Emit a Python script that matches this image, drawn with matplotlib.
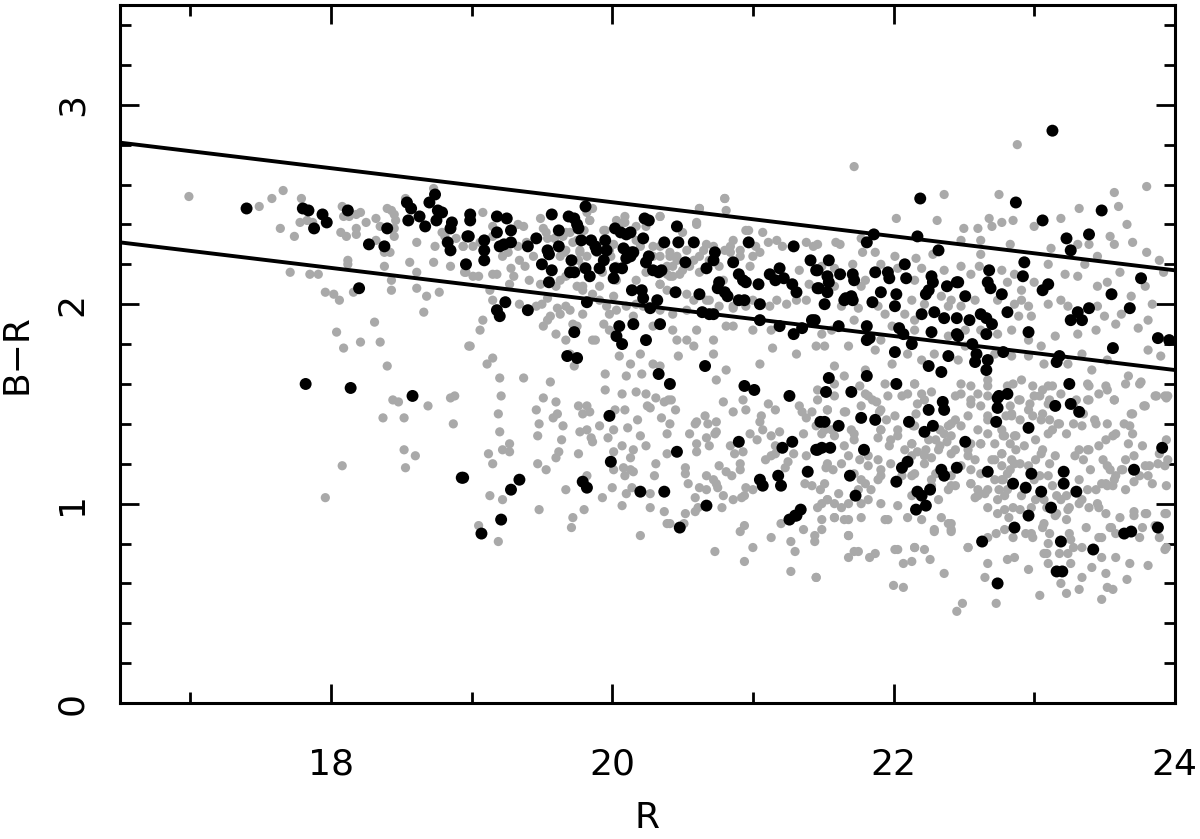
import numpy as np
import matplotlib
matplotlib.use("Agg")
import matplotlib.pyplot as plt

# colour-magnitude diagram: R vs B-R
# black = members, gray = field galaxies (values read by eye)
black_pts = [
    (17.40, 2.48), (17.80, 2.48), (17.84, 2.47), (17.94, 2.45), (17.88, 2.38), (17.97, 2.41),
    (18.12, 2.47), (18.40, 2.38), (18.27, 2.30), (18.38, 2.29), (18.20, 2.08), (18.54, 2.51),
    (18.57, 2.48), (18.70, 2.51), (18.74, 2.55), (18.63, 2.44), (18.55, 2.42), (18.67, 2.39),
    (18.76, 2.47), (18.79, 2.46), (18.75, 2.42), (18.86, 2.41), (18.85, 2.38), (18.83, 2.31),
    (18.85, 2.27), (18.96, 2.20), (18.97, 2.34), (18.99, 2.45), (17.82, 1.60), (18.14, 1.58),
    (18.58, 1.54), (18.93, 1.13),
    (18.99, 2.42), (18.98, 2.34), (19.09, 2.32), (19.09, 2.27), (19.09, 2.22), (19.18, 2.44),
    (19.25, 2.43), (19.18, 2.36), (19.28, 2.37), (19.23, 2.30), (19.20, 2.29), (19.28, 2.31),
    (19.24, 2.01), (19.18, 1.97), (19.20, 1.94), (19.40, 1.97), (19.40, 2.29), (19.46, 2.33),
    (19.57, 2.45), (19.62, 2.37), (19.54, 2.27), (19.55, 2.25), (19.62, 2.29), (19.50, 2.20),
    (19.57, 2.17), (19.55, 2.11), (19.69, 2.44), (19.73, 2.43), (19.75, 2.40), (19.76, 2.38),
    (19.81, 2.49), (19.78, 2.32), (19.85, 2.32), (19.88, 2.29), (19.89, 2.27), (19.71, 2.22),
    (19.70, 2.16), (19.73, 2.16), (19.81, 2.18), (19.84, 2.14), (19.82, 2.01), (19.73, 1.86),
    (19.68, 1.74), (19.75, 1.73), (19.95, 2.32), (19.96, 2.27), (19.94, 2.22), (19.91, 2.18),
    (20.02, 2.38), (20.06, 2.36), (20.10, 2.35), (20.13, 2.36), (20.08, 2.28), (20.11, 2.26),
    (20.14, 2.26), (20.10, 2.23), (20.13, 2.24), (20.15, 2.26), (20.02, 2.18), (20.07, 2.18),
    (20.01, 2.13), (20.22, 2.33), (20.23, 2.43), (20.26, 2.42), (20.26, 2.24), (20.24, 2.21),
    (20.14, 2.07), (20.21, 2.07), (20.22, 2.03), (20.05, 1.89), (20.03, 1.84), (20.07, 1.80),
    (20.15, 1.90), (20.24, 1.82), (20.29, 2.17), (20.33, 2.16), (20.35, 2.17), (20.32, 2.02),
    (20.27, 1.98), (20.34, 1.90), (20.37, 2.31), (20.45, 2.06), (20.46, 2.39), (20.47, 2.31),
    (20.52, 2.21), (20.58, 2.31), (20.67, 2.18), (20.62, 2.05), (20.64, 1.96), (20.69, 1.95),
    (20.72, 1.95), (20.73, 2.26), (20.72, 2.22), (20.76, 2.11), (20.75, 2.08), (20.80, 2.06),
    (20.82, 2.04), (20.86, 2.21), (20.90, 2.02), (20.94, 2.02), (20.90, 2.15), (20.93, 2.12),
    (20.95, 2.11), (20.97, 2.31), (21.04, 2.10), (21.05, 2.00), (21.05, 1.92), (21.12, 2.15),
    (21.16, 2.12), (21.19, 2.18), (21.22, 2.13), (21.29, 2.29), (21.28, 2.10), (21.31, 2.06),
    (21.41, 2.22), (21.45, 2.17), (21.46, 2.08), (21.42, 1.92), (21.35, 1.88), (21.29, 1.85),
    (21.19, 1.89), (20.66, 1.69), (20.33, 1.65), (20.41, 1.60), (20.94, 1.59), (21.01, 1.57),
    (21.26, 1.54),
    (18.94, 1.13), (19.34, 1.12), (19.28, 1.07), (19.21, 0.92), (19.07, 0.85), (19.79, 1.11),
    (19.82, 1.08), (19.98, 1.44), (19.99, 1.21), (20.20, 1.06), (20.37, 1.06), (20.46, 1.26),
    (20.48, 0.88), (20.67, 0.99), (20.90, 1.31), (21.05, 1.12), (21.07, 1.09), (21.18, 1.14),
    (21.20, 1.09), (21.21, 1.28), (21.28, 1.31), (21.26, 0.92), (21.30, 0.94), (21.34, 0.97),
    (21.31, 0.94), (21.39, 1.16), (21.45, 1.27), (21.48, 1.41),
    (23.13, 2.87), (22.19, 2.53), (22.87, 2.51), (23.06, 2.42), (23.48, 2.47), (21.86, 2.35),
    (21.81, 2.31), (22.17, 2.34), (22.32, 2.27), (23.23, 2.33), (23.26, 2.27), (23.39, 2.35),
    (21.54, 2.22), (21.46, 2.17), (21.53, 2.14), (21.54, 2.11), (21.47, 2.08), (21.53, 2.06),
    (21.62, 2.15), (21.71, 2.15), (21.72, 2.12), (21.87, 2.16), (21.96, 2.16), (21.97, 2.13),
    (22.08, 2.20), (22.09, 2.13), (21.66, 2.03), (21.70, 2.04), (21.71, 2.02), (21.65, 2.02),
    (21.51, 2.00), (21.44, 1.92), (21.61, 1.89), (21.85, 2.01), (21.91, 2.06), (22.02, 2.05),
    (22.01, 1.99), (21.81, 1.89), (21.81, 1.82), (21.83, 1.83), (22.04, 1.88), (22.07, 1.85),
    (22.13, 1.80), (22.01, 1.76), (22.27, 2.14), (22.28, 2.11), (22.25, 2.07), (22.23, 2.05),
    (22.38, 2.09), (22.45, 2.11), (22.46, 2.11), (22.51, 2.04), (22.20, 1.95), (22.29, 1.96),
    (22.36, 1.93), (22.45, 1.93), (22.27, 1.86), (22.45, 1.85), (22.46, 1.84), (22.54, 1.92),
    (22.62, 1.95), (22.66, 1.93), (22.70, 1.90), (22.66, 1.85), (22.56, 1.80), (22.59, 1.75),
    (22.58, 1.71), (22.67, 1.72), (22.66, 1.67), (22.39, 1.74), (22.25, 1.69), (22.34, 1.66),
    (22.68, 2.17), (22.69, 2.08), (22.67, 2.11), (22.77, 2.05), (22.81, 1.96), (22.78, 1.76),
    (22.93, 2.21), (22.92, 2.14), (22.96, 1.86), (23.06, 2.07), (23.10, 2.10), (23.18, 1.74),
    (23.16, 1.71), (23.31, 1.96), (23.26, 1.92), (23.34, 1.92), (23.39, 1.98), (23.55, 2.05),
    (23.56, 1.78), (23.68, 1.98), (23.76, 2.13), (23.88, 1.83), (23.96, 1.82), (21.54, 1.63),
    (21.52, 1.56), (21.70, 1.56), (21.81, 1.64), (22.02, 1.60), (23.25, 1.60), (22.75, 1.54),
    (22.81, 1.55),
    (21.51, 1.41), (21.61, 1.39), (21.77, 1.43), (21.87, 1.42), (21.46, 1.27), (21.49, 1.28),
    (21.55, 1.28), (21.79, 1.27), (21.69, 1.14), (21.73, 1.04), (22.11, 1.41), (22.25, 1.47),
    (22.28, 1.39), (22.22, 1.36), (22.35, 1.51), (22.36, 1.47), (22.06, 1.18), (22.10, 1.21),
    (22.02, 1.11), (22.17, 1.06), (22.20, 1.04), (22.26, 1.07), (22.23, 0.99), (22.16, 0.97),
    (22.34, 1.17), (22.36, 1.14), (22.45, 1.18), (22.51, 1.31), (22.67, 1.16), (22.74, 1.53),
    (22.74, 1.48), (22.73, 1.41), (22.96, 1.38), (23.15, 1.49), (23.26, 1.50), (23.32, 1.46),
    (22.85, 1.10), (22.94, 1.08), (22.98, 1.15), (23.05, 1.06), (23.12, 0.98), (22.96, 0.94),
    (23.21, 1.16), (23.21, 1.10), (23.30, 1.06), (22.86, 0.88), (22.63, 0.81), (23.19, 0.81),
    (23.42, 0.77), (23.16, 0.66), (23.20, 0.66), (22.74, 0.60), (23.64, 0.85), (23.69, 0.86),
    (23.71, 1.17), (23.91, 1.28), (23.88, 0.88),
]

gray_pts = [
    (16.99, 2.54), (17.49, 2.49), (17.58, 2.53), (17.66, 2.57), (17.64, 2.38), (17.74, 2.34),
    (17.79, 2.53), (17.78, 2.41), (17.83, 2.42), (17.87, 2.41), (17.71, 2.16), (17.85, 2.15),
    (17.91, 2.15), (17.96, 2.06), (18.02, 2.05), (18.06, 2.02), (18.08, 2.49), (18.09, 2.44),
    (18.13, 2.44), (18.18, 2.45), (18.21, 2.46), (18.07, 2.36), (18.11, 2.34), (18.18, 2.38),
    (18.18, 2.35), (18.25, 2.41), (18.32, 2.43), (18.35, 2.39), (18.32, 2.32), (18.12, 2.22),
    (18.12, 2.20), (18.16, 2.06), (18.38, 2.26), (18.42, 2.26), (18.38, 2.19), (18.40, 2.48),
    (18.43, 2.47), (18.45, 2.45), (18.46, 2.42), (18.45, 2.38), (18.45, 2.34), (18.53, 2.53),
    (18.43, 2.12), (18.43, 2.07), (18.56, 2.21), (18.61, 2.31), (18.61, 2.16), (18.61, 2.08),
    (18.68, 2.04), (18.77, 2.06), (18.66, 1.96), (18.73, 2.21), (18.73, 2.58), (18.74, 2.29),
    (18.79, 2.36), (18.81, 2.34), (18.89, 2.33), (18.94, 2.29), (18.85, 2.19), (18.95, 2.16),
    (18.31, 1.91), (18.04, 1.86), (18.09, 1.78), (18.21, 1.81), (18.35, 1.81), (18.40, 1.69),
    (18.98, 1.79), (18.44, 1.52), (18.88, 1.54), (18.48, 1.51), (18.69, 1.49), (18.85, 1.53),
    (18.37, 1.43), (18.52, 1.43), (18.87, 1.40), (18.52, 1.27), (18.60, 1.24), (18.53, 1.18),
    (18.08, 1.19), (17.96, 1.03),
    (19.21, 1.54), (19.19, 1.45), (19.20, 1.36), (19.22, 1.27), (19.27, 1.30), (19.27, 1.26),
    (19.12, 1.25), (19.15, 1.20), (19.13, 1.04), (19.22, 1.02), (19.05, 0.89), (19.19, 0.81),
    (19.51, 1.53), (19.46, 1.47), (19.48, 1.40), (19.47, 1.34), (19.47, 1.20), (19.53, 1.17),
    (19.48, 0.97), (19.60, 1.51), (19.61, 1.45), (19.58, 1.43), (19.65, 1.39), (19.64, 1.32),
    (19.62, 1.26), (19.60, 1.23), (19.67, 1.07), (19.72, 0.93), (19.71, 0.88), (19.80, 0.97),
    (19.76, 1.25), (19.76, 1.49), (19.82, 1.49), (19.79, 1.45), (19.84, 1.46), (19.77, 1.36),
    (19.82, 1.37), (19.85, 1.33), (19.86, 1.31), (19.91, 1.39), (19.93, 1.03), (19.82, 1.14),
    (19.95, 1.57), (20.02, 1.47), (20.09, 1.47), (20.07, 1.55), (20.01, 1.37), (19.97, 1.33),
    (20.01, 1.26), (20.01, 1.17), (20.07, 1.29), (20.15, 1.27), (20.13, 1.23), (20.08, 1.18),
    (20.13, 1.17), (20.15, 1.16), (20.09, 1.14), (20.00, 1.08), (20.10, 1.05), (20.07, 0.99),
    (20.14, 1.08), (20.17, 1.56), (20.24, 1.55), (20.18, 1.42), (20.11, 1.38), (20.20, 1.34),
    (20.24, 1.29), (20.20, 0.84), (20.27, 1.05), (20.27, 0.98), (20.25, 1.49), (20.27, 1.48),
    (20.31, 1.53), (20.37, 1.51), (20.40, 1.52), (20.42, 1.52), (20.45, 1.47), (20.35, 1.43),
    (20.41, 1.40), (20.39, 1.35), (20.31, 1.20), (20.30, 1.14), (20.39, 1.25), (20.37, 0.96),
    (20.39, 0.90), (20.41, 0.90), (20.52, 0.95), (20.51, 0.90), (20.52, 1.18), (20.52, 1.15),
    (20.54, 1.10), (20.55, 1.35), (20.59, 1.40), (20.60, 1.41), (20.60, 1.30), (20.60, 1.26),
    (20.62, 1.08), (20.59, 1.03), (20.61, 0.98), (20.59, 0.96), (20.66, 1.44), (20.68, 1.40),
    (20.74, 1.41), (20.67, 1.33), (20.69, 1.29), (20.73, 1.35), (20.74, 1.36), (20.67, 1.14),
    (20.72, 1.12), (20.74, 1.10), (20.75, 1.08), (20.67, 1.07), (20.79, 1.04), (20.78, 0.98),
    (20.73, 0.76), (20.79, 1.51), (20.86, 1.46), (20.93, 1.52), (20.95, 1.47), (20.84, 1.29),
    (20.87, 1.25), (20.91, 1.20), (20.91, 1.17), (20.93, 1.26), (20.76, 1.19), (20.81, 1.16),
    (20.85, 1.14), (20.86, 1.02), (20.92, 1.03), (20.94, 1.04), (20.95, 1.08), (21.00, 1.07),
    (20.94, 0.89), (20.91, 0.86), (21.00, 0.78), (20.94, 0.71), (20.98, 1.35), (21.03, 1.32),
    (21.06, 1.44), (21.05, 1.41), (21.07, 1.37), (21.09, 1.22), (21.13, 1.24), (21.11, 1.50),
    (21.16, 1.47), (21.13, 1.34), (21.16, 1.29), (21.19, 1.36), (21.16, 1.25), (21.23, 1.18),
    (21.25, 1.21), (21.29, 1.25), (21.33, 1.49), (21.35, 1.46), (21.38, 1.43), (21.42, 1.46),
    (21.36, 1.35), (21.38, 1.24), (21.37, 1.10), (21.42, 1.09), (21.36, 0.87), (21.44, 0.84),
    (21.44, 0.81), (21.13, 0.83), (21.20, 0.90), (21.27, 0.81), (21.30, 0.76), (21.27, 0.66),
    (21.45, 0.63), (21.45, 1.39),
    (19.08, 2.46), (19.01, 2.29), (18.94, 2.29), (19.06, 2.31), (18.96, 2.16), (19.05, 2.14),
    (19.01, 2.14), (19.15, 2.02), (19.13, 2.07), (19.27, 2.10), (19.34, 2.00), (19.15, 2.15),
    (19.18, 2.15), (19.28, 2.18), (19.34, 2.22), (19.38, 2.19), (19.44, 2.24), (19.49, 2.10),
    (19.50, 2.00), (19.54, 2.03), (19.61, 1.98), (19.63, 2.12), (19.60, 2.09), (19.51, 2.38),
    (19.54, 2.33), (19.59, 2.33), (19.49, 2.43), (19.37, 2.39), (19.33, 2.40), (19.15, 2.39),
    (19.22, 2.24), (19.30, 2.14), (19.41, 2.12), (19.15, 2.34), (19.26, 2.26), (19.33, 2.29),
    (19.39, 2.31), (19.53, 2.36), (19.65, 2.34), (19.63, 2.24), (19.67, 2.27), (19.70, 2.36),
    (19.75, 2.32), (19.77, 2.27), (19.76, 2.22), (19.82, 2.24), (19.84, 2.42), (19.82, 2.46),
    (19.86, 2.48), (19.95, 2.37), (20.03, 2.42), (20.08, 2.41), (20.09, 2.44), (20.01, 2.30),
    (19.99, 2.24), (20.03, 2.19), (20.17, 2.32), (20.20, 2.29), (20.29, 2.24), (20.34, 2.29),
    (20.41, 2.26), (20.46, 2.24), (20.43, 2.19), (20.39, 2.15), (20.34, 2.10), (20.39, 2.07),
    (20.43, 2.14), (20.48, 2.15), (20.55, 2.19), (20.58, 2.22), (20.53, 2.27), (20.62, 2.24),
    (20.67, 2.30), (20.72, 2.29), (20.80, 2.27), (20.84, 2.29), (20.91, 2.24), (20.98, 2.19),
    (21.00, 2.24), (21.05, 2.26), (21.11, 2.31), (21.17, 2.32), (21.21, 2.29), (21.38, 2.31),
    (21.43, 2.29), (21.33, 2.17), (21.40, 2.10), (21.38, 2.02), (21.31, 2.02), (21.24, 2.00),
    (21.17, 2.02), (21.12, 1.99), (21.00, 2.02), (20.95, 1.99), (20.86, 1.98), (20.76, 1.99),
    (20.69, 2.02), (20.58, 2.02), (20.53, 1.97), (20.43, 1.95), (20.34, 1.97), (20.24, 1.99),
    (20.17, 2.00), (20.10, 1.99), (20.03, 1.97), (19.96, 1.99), (19.91, 2.02), (19.86, 2.05),
    (19.79, 2.07), (19.75, 2.09), (19.70, 1.97), (19.63, 1.95), (19.56, 1.94), (19.51, 1.89),
    (19.60, 1.85), (19.67, 1.82), (19.75, 1.89), (19.86, 1.82), (19.98, 1.87), (20.15, 1.94),
    (20.29, 1.89), (20.43, 1.87), (20.53, 1.82), (20.60, 1.87), (20.72, 1.82), (20.72, 1.75),
    (20.81, 1.67), (20.86, 1.89), (21.00, 1.87), (21.13, 1.87), (21.14, 1.78), (21.31, 1.75),
    (21.45, 1.79), (21.05, 1.70), (20.58, 1.79), (20.46, 1.82), (20.34, 1.69), (20.20, 1.75),
    (20.13, 1.70), (20.05, 1.74), (19.95, 1.65), (20.10, 1.64), (20.21, 1.65), (20.29, 1.70),
    (20.47, 1.74), (20.74, 1.62), (19.20, 1.63), (19.37, 1.63), (19.56, 1.61), (19.11, 1.70),
    (19.15, 1.73), (18.99, 1.79), (19.06, 1.87), (19.08, 1.92), (19.54, 1.92), (19.46, 1.99),
    (19.88, 1.82), (19.70, 1.75), (19.73, 1.69), (20.80, 2.53), (20.81, 2.47), (20.62, 2.48),
    (20.60, 2.40), (21.07, 2.36), (20.97, 2.37), (20.34, 2.44),
    (21.72, 2.69), (22.88, 2.80), (23.80, 2.59), (22.36, 2.55), (22.75, 2.55), (22.02, 2.43),
    (22.31, 2.42), (22.68, 2.43), (22.77, 2.41), (22.85, 2.42), (22.50, 2.38), (22.60, 2.38),
    (22.70, 2.39), (23.00, 2.39), (23.19, 2.43), (23.32, 2.48), (23.57, 2.56), (23.60, 2.49),
    (23.66, 2.40), (23.54, 2.34), (23.57, 2.30), (23.70, 2.31), (23.80, 2.26), (23.89, 2.22),
    (23.92, 2.16), (23.31, 2.30), (23.39, 2.30), (23.12, 2.28), (21.77, 2.33), (21.59, 2.31),
    (21.62, 2.30), (21.46, 2.30), (21.78, 2.26), (21.87, 2.26), (22.01, 2.24), (22.16, 2.23),
    (22.28, 2.25), (22.62, 2.25), (22.83, 2.30), (23.10, 2.20), (23.36, 2.20), (23.45, 2.24),
    (23.61, 2.16), (23.84, 2.00), (21.49, 2.19), (21.58, 2.18), (21.71, 2.20), (21.80, 2.12),
    (21.91, 2.20), (22.03, 2.18), (22.15, 2.12), (22.20, 2.18), (22.36, 2.17), (22.48, 2.19),
    (22.55, 2.15), (22.61, 2.19), (22.77, 2.17), (22.86, 2.15), (23.00, 2.11), (23.22, 2.15),
    (23.31, 2.14), (23.45, 2.09), (23.52, 2.11), (23.69, 2.04), (23.79, 2.09), (21.58, 2.09),
    (21.77, 2.09), (21.63, 1.99), (21.75, 1.98), (21.89, 1.99), (21.94, 1.95), (22.08, 1.95),
    (22.13, 2.02), (22.15, 1.92), (22.22, 2.00), (22.34, 2.04), (22.41, 2.02), (22.48, 1.99),
    (22.58, 2.02), (22.74, 2.02), (22.86, 2.00), (22.91, 2.02), (22.96, 1.99), (22.89, 1.94),
    (22.98, 1.94), (23.10, 2.00), (23.19, 2.02), (23.24, 1.99), (23.45, 1.99), (23.50, 1.94),
    (23.62, 1.95), (23.74, 1.88), (23.81, 1.92), (23.58, 1.90), (23.44, 1.87), (23.31, 1.85),
    (23.15, 1.84), (23.05, 1.79), (22.96, 1.82), (22.84, 1.87), (22.74, 1.85), (22.62, 1.87),
    (22.51, 1.87), (22.39, 1.84), (22.15, 1.87), (21.99, 1.89), (21.91, 1.82), (21.72, 1.92),
    (21.56, 1.87), (21.49, 1.85), (21.51, 1.79), (21.68, 1.79), (21.87, 1.77), (21.99, 1.70),
    (22.10, 1.75), (22.20, 1.72), (22.29, 1.75), (22.46, 1.72), (22.51, 1.79), (22.72, 1.75),
    (22.84, 1.74), (22.96, 1.74), (23.07, 1.70), (23.24, 1.70), (23.34, 1.75), (23.41, 1.67),
    (23.52, 1.72), (23.67, 1.64), (23.76, 1.61), (23.81, 1.77), (23.90, 1.74), (21.58, 1.69),
    (21.65, 1.64), (21.80, 1.67), (21.94, 1.60), (22.15, 1.60), (22.48, 1.60), (22.67, 1.62),
    (22.91, 1.62), (23.10, 1.59), (23.38, 1.60), (23.52, 1.57), (23.86, 1.54), (23.95, 1.54),
    (22.48, 2.32), (22.62, 2.32), (22.81, 2.11), (22.91, 2.07), (22.39, 1.99),
    (21.46, 1.52), (21.58, 1.54), (21.80, 1.55), (21.96, 1.54), (22.10, 1.55), (22.22, 1.52),
    (22.44, 1.54), (22.55, 1.52), (22.67, 1.54), (22.89, 1.52), (23.00, 1.54), (23.10, 1.50),
    (23.38, 1.52), (23.57, 1.52), (23.79, 1.49), (23.93, 1.54), (21.53, 1.47), (21.65, 1.46),
    (21.72, 1.35), (21.58, 1.34), (21.51, 1.37), (21.91, 1.47), (22.01, 1.44), (21.91, 1.37),
    (22.03, 1.34), (22.15, 1.39), (22.13, 1.30), (22.25, 1.32), (22.36, 1.35), (22.41, 1.40),
    (22.53, 1.44), (22.60, 1.37), (22.62, 1.30), (22.67, 1.42), (22.84, 1.44), (22.86, 1.34),
    (22.96, 1.47), (23.05, 1.42), (23.10, 1.35), (23.17, 1.40), (23.34, 1.39), (23.43, 1.42),
    (23.52, 1.40), (23.58, 1.35), (23.64, 1.40), (23.69, 1.45), (23.67, 1.30), (23.38, 1.27),
    (23.29, 1.24), (23.15, 1.24), (23.05, 1.25), (22.93, 1.29), (22.79, 1.34), (22.77, 1.25),
    (22.72, 1.22), (22.55, 1.10), (22.60, 1.04), (22.67, 1.07), (22.77, 1.12), (22.74, 1.02),
    (22.79, 0.97), (22.91, 1.04), (22.98, 0.98), (23.07, 1.02), (23.15, 0.94), (23.24, 0.97),
    (23.34, 1.02), (23.38, 1.07), (23.45, 1.00), (23.52, 1.09), (23.57, 1.12), (23.62, 1.17),
    (23.52, 1.19), (23.71, 1.24), (23.79, 1.19), (23.88, 1.20), (23.95, 1.22), (23.93, 0.95),
    (23.93, 0.77), (23.79, 0.95), (23.71, 0.96), (23.55, 0.88), (23.48, 0.83), (23.34, 0.78),
    (23.24, 0.75), (23.10, 0.70), (23.07, 0.75), (22.96, 0.67), (22.86, 0.73), (22.81, 0.72),
    (22.67, 0.70), (22.65, 0.63), (22.73, 0.50), (22.49, 0.50), (22.45, 0.46), (22.36, 0.65),
    (22.22, 0.77), (22.26, 0.72), (22.15, 0.78), (22.13, 0.71), (22.07, 0.70), (22.01, 0.77),
    (22.00, 0.59), (22.07, 0.58), (21.87, 0.75), (21.83, 0.73), (21.72, 0.76), (21.68, 0.73),
    (21.68, 0.84), (21.45, 0.63), (21.49, 0.87), (21.58, 0.93), (21.68, 0.92), (21.77, 0.93),
    (21.94, 0.92), (22.10, 0.93), (22.20, 0.92), (22.29, 0.87), (22.39, 0.90), (22.41, 0.87),
    (22.53, 0.78), (23.07, 0.90), (22.98, 0.85), (23.26, 0.82), (23.10, 0.80), (23.04, 0.54),
    (23.23, 0.55), (23.32, 0.57), (23.48, 0.52), (23.56, 0.57), (23.52, 0.58), (23.66, 0.62),
    (23.81, 0.69), (23.68, 0.70), (23.51, 0.65), (23.41, 0.68), (23.19, 0.60), (23.34, 0.63),
    (23.48, 0.73), (23.26, 0.70), (23.94, 0.78), (23.86, 0.89), (23.93, 1.19), (23.81, 1.14),
    (23.71, 1.11), (21.51, 1.10), (21.58, 1.00), (21.53, 1.02), (21.49, 1.00), (21.80, 1.10),
    (21.84, 1.07), (21.91, 1.14), (21.89, 1.22), (21.82, 1.19), (21.72, 1.15), (21.63, 1.20),
    (21.53, 1.20), (22.27, 1.12), (22.39, 1.07), (22.44, 1.09), (22.15, 1.15), (22.22, 1.24),
    (22.32, 1.27), (22.44, 1.27), (22.53, 1.24), (22.55, 1.17), (22.62, 1.15), (22.86, 1.20),
    (22.96, 1.19), (23.00, 1.12), (23.10, 1.14), (23.19, 1.02), (23.40, 1.17), (23.48, 1.10),
]

gray_pts_dense = [
    (21.46, 1.57), (21.58, 1.60), (21.76, 1.59), (21.82, 1.54), (21.85, 1.52), (21.77, 1.49),
    (21.66, 1.46), (21.53, 1.47), (21.56, 1.37), (21.49, 1.35), (21.70, 1.37), (21.72, 1.32),
    (21.65, 1.29), (21.68, 1.24), (21.76, 1.22), (21.82, 1.24), (21.90, 1.46), (21.95, 1.42),
    (21.91, 1.37), (21.89, 1.33), (21.98, 1.32), (21.97, 1.29), (22.03, 1.37), (21.88, 1.51),
    (22.06, 1.54), (22.15, 1.60), (22.20, 1.55), (22.27, 1.56), (22.17, 1.50), (22.16, 1.45),
    (22.14, 1.39), (22.13, 1.30), (22.08, 1.27), (22.13, 1.24), (22.17, 1.26), (22.23, 1.27),
    (22.27, 1.23), (22.30, 1.32), (22.33, 1.37), (22.39, 1.39), (22.44, 1.42), (22.48, 1.39),
    (22.41, 1.34), (22.38, 1.31), (22.48, 1.55), (22.55, 1.59), (22.60, 1.55), (22.55, 1.50),
    (22.62, 1.49), (22.67, 1.44), (22.67, 1.59), (22.81, 1.59), (22.84, 1.45), (22.77, 1.37),
    (22.67, 1.35), (22.62, 1.30), (22.72, 1.30), (22.77, 1.25), (22.70, 1.22), (22.55, 1.30),
    (22.53, 1.27), (22.58, 1.22), (22.55, 1.10), (22.60, 1.07), (22.58, 1.03), (22.65, 1.05),
    (22.67, 0.98), (22.72, 1.12), (22.75, 1.07), (22.79, 1.04), (22.81, 1.15), (22.74, 0.95),
    (22.73, 0.85), (22.67, 0.83), (22.53, 0.78), (22.41, 0.90), (22.34, 0.93), (22.29, 0.86),
    (22.41, 0.86), (22.15, 0.78), (22.03, 0.77), (21.96, 0.92), (21.82, 1.02), (21.77, 1.00),
    (21.68, 1.00), (21.63, 0.98), (21.53, 1.02), (21.61, 1.05), (21.77, 1.12), (21.75, 1.07),
    (21.57, 1.17), (21.52, 1.18), (21.48, 1.07), (21.46, 0.98), (21.49, 0.92), (21.58, 0.93),
    (21.65, 0.92), (21.68, 0.84), (21.75, 0.76), (21.89, 1.12), (21.91, 1.17), (21.98, 1.20),
    (22.06, 1.14), (22.13, 1.14), (22.22, 1.20), (22.30, 1.15), (22.27, 1.09), (22.32, 1.02),
    (22.41, 1.09), (22.41, 1.14), (22.48, 1.19), (21.91, 1.00), (22.03, 0.99), (22.13, 1.04),
    (22.33, 1.29), (22.41, 1.25), (22.77, 1.19), (22.81, 1.07), (22.84, 1.22),
    (22.85, 1.60), (22.99, 1.59), (23.06, 1.57), (23.13, 1.59), (23.19, 1.55), (23.11, 1.52),
    (23.04, 1.54), (22.97, 1.50), (22.90, 1.52), (22.83, 1.49), (22.80, 1.44), (22.90, 1.42),
    (22.99, 1.44), (23.06, 1.45), (23.11, 1.42), (23.18, 1.40), (23.28, 1.40), (23.35, 1.45),
    (23.39, 1.52), (23.39, 1.59), (23.46, 1.55), (23.51, 1.59), (23.57, 1.52), (23.65, 1.60),
    (23.75, 1.60), (23.87, 1.54), (23.94, 1.53), (23.78, 1.49), (23.70, 1.45), (23.68, 1.39),
    (23.70, 1.35), (23.56, 1.34), (23.51, 1.32), (23.46, 1.29), (23.44, 1.40), (23.32, 1.27),
    (23.39, 1.27), (23.35, 1.22), (23.49, 1.22), (23.54, 1.17), (23.58, 1.14), (23.51, 1.10),
    (23.56, 1.09), (23.65, 1.07), (23.63, 1.17), (23.65, 1.22), (23.77, 1.29), (23.75, 1.14),
    (23.82, 1.19), (23.84, 1.10), (23.94, 1.09), (23.89, 1.25), (23.94, 1.32), (23.44, 1.07),
    (23.32, 1.12), (23.32, 1.00), (23.39, 0.98), (23.46, 0.98), (23.51, 0.95), (23.61, 0.93),
    (23.71, 0.94), (23.77, 0.88), (23.94, 0.95), (23.80, 0.95), (23.54, 0.88), (23.58, 0.85),
    (23.46, 0.83), (23.37, 0.88), (23.25, 0.85), (23.23, 0.92), (23.16, 0.95), (23.09, 0.98),
    (23.01, 1.02), (22.90, 0.97), (22.85, 0.98), (22.82, 0.93), (22.79, 0.87), (22.85, 0.83),
    (22.94, 0.85), (22.99, 0.83), (23.06, 0.88), (23.11, 0.85), (23.09, 0.75), (23.18, 0.75),
    (23.28, 0.78), (23.58, 0.73), (23.75, 0.83), (23.89, 0.83), (22.78, 1.12), (22.83, 1.17),
    (22.90, 1.20), (22.87, 1.27), (22.83, 1.30), (22.78, 1.34), (22.87, 1.34), (23.01, 1.32),
    (23.06, 1.27), (23.01, 1.22), (23.11, 1.20), (23.04, 1.14), (23.13, 1.09), (23.16, 1.04),
    (23.23, 1.04), (23.25, 0.98), (23.13, 1.37), (23.23, 1.35), (23.28, 1.49), (23.30, 1.52),
    (19.84, 2.42), (19.80, 2.37), (19.67, 2.36), (19.72, 2.31), (19.66, 2.26), (19.77, 2.26),
    (19.79, 2.19), (19.67, 2.14), (19.94, 2.37), (19.98, 2.27), (19.89, 2.26), (19.93, 2.16),
    (20.03, 2.12), (20.09, 2.41), (20.17, 2.39), (20.24, 2.39), (20.20, 2.32), (20.29, 2.29),
    (20.34, 2.24), (20.41, 2.24), (20.46, 2.22), (20.39, 2.19), (20.34, 2.10), (20.41, 2.14),
    (20.50, 2.17), (20.50, 2.36), (20.60, 2.41), (20.65, 2.27), (20.62, 2.16), (20.69, 2.22),
    (20.76, 2.19), (20.79, 2.12), (20.86, 2.32), (20.91, 2.27), (20.95, 2.37), (21.02, 2.29),
    (20.84, 2.26), (20.34, 2.44), (20.62, 2.48), (20.80, 2.53), (20.17, 2.12), (20.24, 2.16),
    (20.01, 2.04), (19.91, 2.09), (19.79, 2.09), (19.67, 1.99), (19.79, 1.95), (19.98, 1.95),
    (20.22, 1.99), (20.53, 2.05), (20.67, 2.02), (20.86, 1.99), (20.95, 2.02), (20.81, 1.89),
    (19.94, 1.90), (19.72, 1.90),
]

# the two straight lines bounding the red sequence
line_r = [16.5, 24.0]
upper_br = [2.81, 2.17]
lower_br = [2.31, 1.67]

xticks = [18, 20, 22, 24]
yticks = [0, 1, 2, 3]


def main():
    gray = np.array(gray_pts + gray_pts_dense)
    black = np.array(black_pts)

    fig = plt.figure(figsize=(12, 8.39), dpi=100)
    ax = fig.add_axes([0.1, 0.162, 0.879, 0.832])

    ax.scatter(gray[:, 0], gray[:, 1], s=44, c="#a9a9a9", edgecolors="none", zorder=2)
    ax.scatter(black[:, 0], black[:, 1], s=74, c="black", edgecolors="none", zorder=3)
    ax.plot(line_r, upper_br, color="black", lw=2.8, zorder=4)
    ax.plot(line_r, lower_br, color="black", lw=2.8, zorder=4)

    ax.set_xlim(16.5, 24)
    ax.set_ylim(0, 3.5)
    ax.set_xticks(xticks)
    ax.set_yticks(yticks)
    ax.set_xticks(np.arange(17, 24, 1.0), minor=True)
    ax.set_yticks(np.arange(0.2, 3.5, 0.2), minor=True)

    for s in ax.spines.values():
        s.set_linewidth(2.2)
    ax.tick_params(which="both", direction="in", top=True, right=True, width=2.0)
    ax.tick_params(which="major", length=14)
    ax.tick_params(which="minor", length=8)
    ax.tick_params(axis="x", labelsize=26, pad=32)
    ax.tick_params(axis="y", labelsize=26, pad=22, labelrotation=90)
    for lab in ax.get_yticklabels():
        lab.set_va("center")

    ax.set_xlabel("R", fontsize=26, va="top")
    ax.set_ylabel("B\u2212R", fontsize=26, va="center")
    ax.xaxis.set_label_coords(0.5, -0.14)
    ax.yaxis.set_label_coords(-0.098, 0.5)

    plt.savefig("out.png", dpi=100)


if __name__ == '__main__':
    main()
